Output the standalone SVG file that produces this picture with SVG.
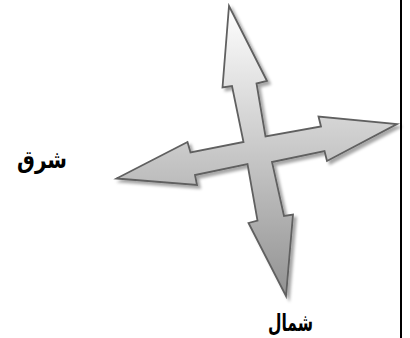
<svg xmlns="http://www.w3.org/2000/svg" width="410" height="338" viewBox="0 0 410 338">
  <defs>
    <linearGradient id="grad" x1="0" y1="0" x2="0" y2="1">
      <stop offset="0" stop-color="#ffffff"/>
      <stop offset="1" stop-color="#929292"/>
    </linearGradient>
    <filter id="shadow" x="-10%" y="-10%" width="130%" height="130%">
      <feDropShadow dx="3" dy="3" stdDeviation="1.5" flood-color="#000" flood-opacity="0.35"/>
    </filter>
    <style>
      .lbl { font-family: "DejaVu Sans", "Liberation Sans", sans-serif; font-weight: bold; font-size: 24px; fill: #000; text-anchor: middle; }
      .arrow { fill: url(#grad); stroke: #606060; stroke-width: 1.8; stroke-linejoin: miter; filter: url(#shadow); }
    </style>
  </defs>
  <rect width="410" height="338" fill="#ffffff"/>
  <g id="compass">
    <polygon class="arrow" points="229,6 267,81 256.5,83.5 265.5,136.5 321,126.5 318.5,116.5 397,124 327,161 324.5,151 272,162 284,216 293,214.5 286,296 248.5,223 257.5,220.5 247.5,164 195,175 197,185 116.5,178.5 187.5,142 190.5,152.5 243.5,142 232,86 222.5,87.5"/>
  </g>
  <g id="label-east">
    <text class="lbl" x="42" y="168" textLength="50" lengthAdjust="spacingAndGlyphs">شرق</text>
  </g>
  <g id="label-north">
    <text class="lbl" x="290.5" y="331" textLength="45" lengthAdjust="spacingAndGlyphs">شمال</text>
  </g>
  <g id="connectors">
    <line x1="401" y1="0" x2="401" y2="338" stroke="#000" stroke-width="2"/>
  </g>
</svg>
